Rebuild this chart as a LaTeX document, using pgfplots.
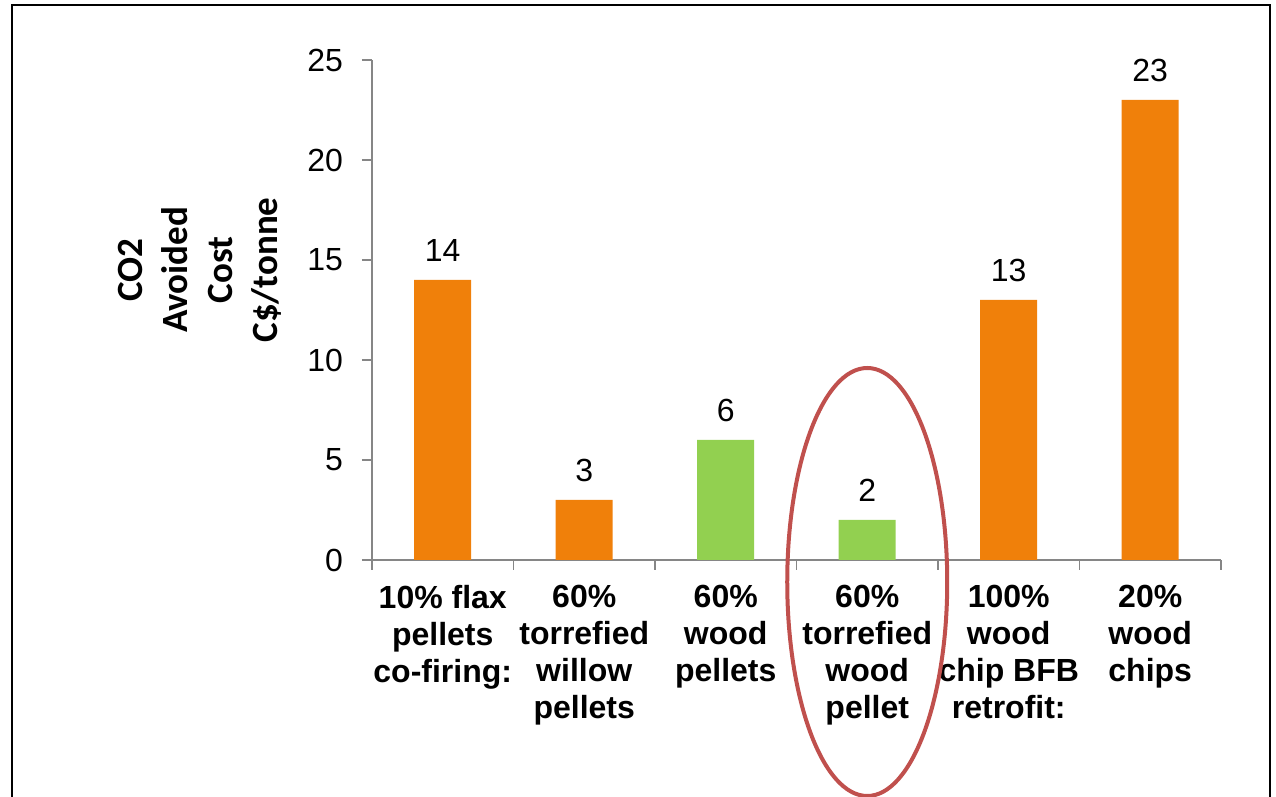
\documentclass[border=0pt]{standalone}
\usepackage{fontspec}
\setmainfont{Liberation Sans}
\newfontfamily\carlito{Carlito}
\usepackage{pgfplots}
\pgfplotsset{compat=1.18}
\definecolor{barorange}{RGB}{240,128,10}
\definecolor{bargreen}{RGB}{146,208,80}
\definecolor{ringred}{RGB}{192,80,77}
\definecolor{axisgray}{RGB}{134,134,134}

\begin{document}
\begin{tikzpicture}
\useasboundingbox (0,0) rectangle (638pt,398.5pt);
\clip (0,0) rectangle (638pt,398.5pt);
% outer frame (open at the bottom)
\draw[line width=1pt] (6pt,-5pt) -- (6pt,396pt) -- (635pt,396pt) -- (635pt,-5pt);
\begin{axis}[
  at={(186pt,118.5pt)}, anchor=south west,
  scale only axis, width=424.5pt, height=250pt,
  xmin=-0.5, xmax=5.5, ymin=0, ymax=25,
  clip=false,
  axis lines*=left,
  axis line style={axisgray, line width=0.8pt},
  ytick={0,5,...,25},
  xtick={0,...,5},
  xticklabels={
    10\% flax\\pellets\\co-firing:,
    60\%\\torrefied\\willow\\pellets,
    60\%\\wood\\pellets,
    60\%\\torrefied\\wood\\pellet,
    100\%\\wood\\chip BFB\\retrofit:,
    20\%\\wood\\chips},
  minor xtick={-0.5,0.5,...,5.5},
  tick align=outside,
  major tick length=5pt, minor tick length=5pt,
  major x tick style={draw=none},
  minor x tick style={axisgray, line width=0.8pt},
  ytick style={axisgray, line width=0.8pt},
  /pgf/number format/assume math mode=true,
  yticklabel style={font=\fontsize{16}{18}\selectfont, xshift=-6pt},
  xticklabel style={font=\bfseries\fontsize{16}{18.5}\selectfont, align=center, anchor=north, yshift=-4pt},
  ylabel={CO2\\Avoided\\Cost\\C\$/tonne},
  every axis y label/.style={at={(axis description cs:-0.2026,0.58)}, rotate=90, anchor=center,
    align=center, font=\carlito\bfseries\fontsize{18.5}{22.5}\selectfont},
  ybar, bar width=28.5pt, bar shift=0pt,
  nodes near coords,
  every node near coord/.append style={font=\fontsize{16}{18}\selectfont, anchor=south, inner sep=0pt, yshift=9pt, color=black},
]
\addplot[fill=barorange, draw=none] coordinates {(0,14) (1,3) (4,13) (5,23)};
\addplot[fill=bargreen, draw=none] coordinates {(2,6) (3,2)};
\draw[ringred, line width=2pt] (axis cs:3,-1.1) ellipse [x radius=40pt, y radius=107pt];
\end{axis}
\end{tikzpicture}
\end{document}
